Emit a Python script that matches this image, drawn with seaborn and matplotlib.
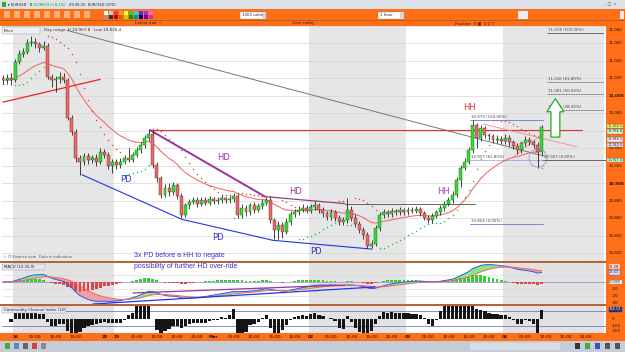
import numpy as np
import pandas as pd
import matplotlib
matplotlib.use("Agg")
import matplotlib.pyplot as plt
import seaborn as sns
from matplotlib.patches import Rectangle, Polygon, Ellipse

sns.set_theme(style="white")
plt.rcParams['font.family'] = ['DejaVu Sans']

# ---------------- data (hourly EUR/USD, price in points: 11000 = 1.1000) ----------------
opens = [11020,11018,11021,11018,11039,11048,11050,11061,11062,11059,
         11055,11057,11022,11018,11019,11022,11018,10975,10959,10929,
         10925,10931,10927,10929,10925,10936,10933,10920,10925,10921,
         10925,10929,10927,10933,10938,10944,10952,10957,10921,10906,
         10887,10895,10890,10898,10886,10864,10875,10879,10881,10877,
         10881,10878,10882,10880,10881,10883,10881,10882,10886,10864,
         10872,10867,10875,10870,10874,10878,10881,10858,10847,10853,
         10845,10856,10865,10867,10870,10872,10869,10873,10875,10870,
         10866,10862,10867,10861,10856,10858,10870,10861,10854,10847,
         10841,10829,10831,10849,10864,10867,10865,10869,10867,10870,
         10867,10870,10869,10871,10866,10861,10858,10863,10867,10872,
         10877,10881,10887,10904,10918,10925,10938,10967,10952,10963,
         10955,10954,10950,10951,10949,10952,10947,10943,10938,10946,
         10950,10947,10944,10936]
closes = [11018,11021,11018,11039,11048,11050,11061,11062,11059,11055,
          11057,11022,11018,11019,11022,11018,10975,10959,10929,10925,
          10931,10927,10929,10925,10936,10933,10920,10925,10921,10925,
          10929,10927,10933,10938,10944,10952,10957,10921,10906,10887,
          10895,10890,10898,10886,10864,10875,10879,10881,10877,10881,
          10878,10882,10880,10881,10883,10881,10882,10886,10864,10872,
          10867,10875,10870,10874,10878,10881,10858,10847,10853,10845,
          10856,10865,10867,10870,10872,10869,10873,10875,10870,10866,
          10862,10867,10861,10856,10858,10870,10861,10854,10847,10841,
          10829,10831,10849,10864,10867,10865,10869,10867,10870,10867,
          10870,10869,10871,10866,10861,10858,10863,10867,10872,10877,
          10881,10887,10904,10918,10925,10938,10967,10952,10963,10955,
          10954,10950,10951,10949,10952,10947,10943,10938,10946,10950,
          10947,10944,10936,10965]
highs = [11024,11025,11026,11042,11052,11055,11065,11068,11066,11062,
         11063,11060,11025,11023,11027,11026,11021,10978,10962,10933,
         10935,10935,10933,10934,10940,10939,10936,10928,10928,10929,
         10932,10940,10936,10942,10947,10955,10962,10960,10925,10909,
         10899,10900,10902,10901,10889,10878,10882,10885,10884,10885,
         10884,10886,10885,10884,10887,10885,10886,10889,10888,10876,
         10875,10878,10879,10878,10882,10885,10884,10861,10857,10856,
         10860,10868,10871,10874,10876,10875,10877,10880,10878,10873,
         10869,10871,10870,10864,10862,10883,10874,10865,10857,10850,
         10844,10835,10852,10867,10871,10870,10872,10871,10873,10872,
         10873,10873,10874,10873,10869,10864,10866,10870,10875,10880,
         10885,10891,10907,10921,10929,10942,10973,10969,10967,10966,
         10958,10957,10955,10954,10956,10955,10950,10946,10949,10954,
         10953,10950,10947,10967]
lows = [11014,11015,11012,11016,11036,11045,11048,11057,11055,11050,
        11052,11019,11010,11005,11015,11015,10972,10955,10925,10910,
        10921,10922,10923,10920,10922,10929,10916,10912,10917,10918,
        10922,10924,10924,10930,10935,10941,10949,10918,10902,10883,
        10884,10886,10887,10882,10860,10862,10871,10876,10873,10874,
        10875,10875,10877,10877,10878,10878,10878,10879,10860,10861,
        10863,10864,10866,10867,10871,10875,10855,10836,10836,10838,
        10842,10853,10862,10864,10867,10866,10866,10870,10866,10862,
        10858,10858,10857,10852,10852,10855,10857,10850,10843,10836,
        10826,10826,10829,10846,10861,10862,10862,10864,10864,10864,
        10864,10866,10866,10863,10858,10855,10855,10860,10864,10869,
        10874,10878,10884,10896,10915,10922,10935,10940,10949,10952,
        10950,10946,10946,10945,10945,10943,10939,10934,10935,10943,
        10944,10940,10918,10933]

# time axis labels (bar index, text)
time_idx = [3, 8, 13, 18, 25, 28, 33, 38, 43, 48, 52, 57, 62, 67, 72, 76, 81, 86, 91, 96,
            100, 105, 110, 115, 120, 124, 129, 134, 139, 144]
time_lbl = ["26", "05:00", "10:00", "15:00", "28", "29", "05:00", "10:00", "15:00", "20:00",
            "Mar", "05:00", "10:00", "15:00", "20:00", "02", "05:00", "10:00", "15:00", "20:00",
            "03", "05:00", "10:00", "15:00", "20:00", "04", "05:00", "10:00", "15:00", "20:00"]
shade_start = [3, 76, 124]
shade_end = [28, 100, 149]
price_levels = [10820, 10840, 10860, 10880, 10900, 10920, 10940, 10960, 10980, 11000,
                11020, 11040, 11060, 11080]

# drawn annotations (bar index, price)
ma_long_idx = [15.8, 133.8]
ma_long_val = [11075, 10931]
red_tl_idx = [0.0, 24.0]
red_tl_val = [10993, 11019]
hd_idx = [36.3, 64.7, 84.4]
hd_val = [10961, 10885, 10877]
pd_idx = [19.5, 44.2, 66.7, 91.1]
pd_val = [10910, 10859, 10835, 10825]
res_idx = [36.3, 143.0]
res_val = [10961, 10961]
brk_idx = [84.4, 116.5]
brk_val = [10877, 10877]
fib_r_levels = [11072, 11016, 11002, 10984]
fib_r_labels = ["11.074 (100.00%)", "11.016 (61.80%)", "11.001 (50.00%)", "10.985 (38.20%)"]
fib_r_span = [134.3, 148.2]
fib_l_levels = [10973, 10927, 10854]
fib_l_labels = ["10.973 (100.00%)", "10.927 (61.80%)", "10.854 (0.00%)"]
fib_l_span = [115.3, 133.3]
base_level = 10927
base_span = [133.3, 149.0]
pink1_idx = [118.5, 141.7]
pink1_val = [10968, 10942]
pink2_idx = [125.9, 133.3]
pink2_val = [10930, 10957]
arrow_idx = [135.3, 137.5, 137.5, 138.5, 136.4, 134.3, 135.3]
arrow_val = [10953, 10953, 10982, 10982, 10997, 10982, 10982]
circle_c = (132.1, 10929)
macd_tl1_idx = [32.1, 84.4]
macd_tl1_val = [-15.7, -4.3]
macd_tl2_idx = [22.2, 91.9]
macd_tl2_val = [-31.4, -7.1]

# ---------------- indicators ----------------
n = len(closes)
idx = np.arange(n)
o = np.array(opens, float); c = np.array(closes, float)
h = np.array(highs, float); l = np.array(lows, float)
cs = pd.Series(c)
ma = cs.ewm(span=20, adjust=False).mean()

def psar(high, low, af0=0.02, afmax=0.2):
    s = np.zeros(len(high)); bull = np.zeros(len(high), bool)
    up = True; af = af0; ep = high[0]; s[0] = low[0]; bull[0] = True
    for i in range(1, len(high)):
        prev = s[i-1]
        v = prev + af * (ep - prev)
        if up:
            v = min(v, low[i-1], low[max(i-2, 0)])
            if low[i] < v:
                up = False; v = ep; ep = low[i]; af = af0
            elif high[i] > ep:
                ep = high[i]; af = min(af + af0, afmax)
        else:
            v = max(v, high[i-1], high[max(i-2, 0)])
            if high[i] > v:
                up = True; v = ep; ep = high[i]; af = af0
            elif low[i] < ep:
                ep = low[i]; af = min(af + af0, afmax)
        s[i] = v; bull[i] = up
    return s, bull

sar, sar_bull = psar(h, l)
ema12 = cs.ewm(span=12, adjust=False).mean()
ema26 = cs.ewm(span=26, adjust=False).mean()
macd = ema12 - ema26
signal = macd.ewm(span=9, adjust=False).mean()
hist = macd - signal
tp = pd.Series((h + l + c) / 3)
sma_tp = tp.rolling(14, min_periods=3).mean()
mad = tp.rolling(14, min_periods=3).apply(lambda x: np.mean(np.abs(x - x.mean())), raw=True)
cci = ((tp - sma_tp) / (0.015 * mad)).fillna(0)

# ---------------- figure ----------------
W, H = 625, 352
fig = plt.figure(figsize=(W / 100, H / 100), dpi=100)
fig.patch.set_facecolor("white")
ORANGE = "#ff6f17"

def rect(x0, y0, x1, y1):
    return [x0 / W, 1 - y1 / H, (x1 - x0) / W, (y1 - y0) / H]

def fbox(x0, y0, x1, y1, color, z=-1, ec="none", lw=0):
    fig.patches.append(Rectangle((x0 / W, 1 - y1 / H), (x1 - x0) / W, (y1 - y0) / H,
                                 transform=fig.transFigure, facecolor=color,
                                 edgecolor=ec, lw=lw, zorder=z))

def ftxt(x, y, s, **kw):
    kw.setdefault("fontsize", 3.5)
    kw.setdefault("va", "center")
    fig.text(x / W, 1 - y / H, s, **kw)

# chrome (behind axes so axis texts stay visible)
fbox(0, 0, 625, 9, "#dde1e8")
fbox(0, 9, 625, 20, ORANGE)
fbox(0, 20, 625, 20.7, "#c85a10", z=-0.9)
fbox(0, 20.7, 625, 26, ORANGE)
fbox(606, 26, 625, 341, ORANGE, z=-0.8)
fbox(0, 333, 625, 341, ORANGE, z=-0.8)
fbox(0, 341, 625, 352, "#c6ccd6", z=-0.8)
fbox(470, 343, 560, 350, "#d9dde5", z=-0.7)
fbox(0, 261, 606, 262.6, "#b4643c", z=2)
fbox(0, 304.3, 606, 305.8, "#b4643c", z=2)

# title bar
fbox(2, 2, 6, 7, "#33aa33", z=2)
ftxt(7.5, 4.5, "\u25b8 EURUSD", color="#222222", fontsize=2.6)
ftxt(30, 4.5, "\u25ae 10,960.0 (+0.1%)", color="#119911", fontsize=2.6)
ftxt(69, 4.5, "09:35:25  EUR/USD (CFD)", color="#222222", fontsize=2.6)
ftxt(603, 4.5, "_  \u25a1  x", color="#555555", fontsize=2.8)
# toolbar
palette = ["#ffffff", "#cccccc", "#ff3333", "#ff9933", "#ffff33", "#33cc33", "#33cccc", "#3333ff", "#9933cc", "#ff66cc",
           "#999999", "#333333", "#cc0000", "#cc6600", "#cccc00", "#009900", "#009999", "#000099", "#660099", "#cc3399"]
for k, col in enumerate(palette):
    cx = 104 + (k % 10) * 5
    cy = 11 + (k // 10) * 4
    fbox(cx, cy, cx + 4.4, cy + 3.6, col, z=2)
for k in range(9):
    fbox(4 + k * 10, 11, 10 + k * 10, 18, "#f9b27d", z=2)
fbox(240, 12, 266, 18.5, "white", z=2, ec="#888888", lw=0.3)
ftxt(242, 15.2, "1000 units", fontsize=2.8, color="#222222")
fbox(262, 12.5, 266, 18, "#cfd6e2", z=2.1)
fbox(378, 12, 404, 18.5, "white", z=2, ec="#888888", lw=0.3)
ftxt(380, 15.2, "1 hour", fontsize=2.8, color="#222222")
fbox(400, 12.5, 404, 18, "#cfd6e2", z=2.1)
fbox(518, 11, 528, 18.5, "#e8eef4", z=2)
fbox(620, 11, 624, 18.5, "#e8eef4", z=2)
ftxt(148, 23.4, "Latest pair  \u203a", ha="center", fontsize=3.0, color="#3a1800")
ftxt(305, 23.4, "Gain today  \u203a", ha="center", fontsize=3.0, color="#3a1800")
ftxt(475, 23.4, "Position  0 \u25a3  1 0 \u2191", ha="center", fontsize=3.0, color="#3a1800")

XL = (-0.25, 148.9)

# ---------------- main price panel ----------------
ax = fig.add_axes(rect(2, 26, 606, 261))
ax.set_xlim(*XL)
ax.set_ylim(10811.4, 11080)
ax.set_facecolor("white")
for a, b in zip(shade_start, shade_end):
    ax.axvspan(a - 0.5, b - 0.5, color="#e6e6e6", lw=0, zorder=0)
for lv in price_levels:
    ax.axhline(lv, color="#d6d6d6", lw=0.5, zorder=0.5)

sns.lineplot(x=ma_long_idx, y=ma_long_val, ax=ax, color="#777777", lw=0.7, zorder=2)
sns.lineplot(x=idx, y=ma.values, ax=ax, color="#f07070", lw=0.8, zorder=2)
ax.plot(red_tl_idx, red_tl_val, color="#ee2222", lw=0.9, zorder=2)
ax.plot(res_idx, res_val, color="#dd3333", lw=0.8, zorder=2)
ax.plot(brk_idx, brk_val, color="#666666", lw=0.7, zorder=2)
ax.plot(hd_idx[:2], hd_val[:2], color="#993399", lw=1.4, zorder=2)
ax.plot(hd_idx[1:], hd_val[1:], color="#884488", lw=0.9, zorder=2)
ax.plot(pd_idx, pd_val, color="#2233ee", lw=0.8, zorder=2)
ax.plot(pink1_idx, pink1_val, color="#f08888", lw=0.6, zorder=2)
ax.plot(pink2_idx, pink2_val, color="#f08888", lw=0.6, zorder=2)

# parabolic SAR dots
sar_df = pd.DataFrame({"i": idx, "sar": sar, "bull": sar_bull})
sns.scatterplot(data=sar_df[sar_df.bull], x="i", y="sar", ax=ax, color="#33bb33", s=1.2,
                linewidth=0, zorder=3)
sns.scatterplot(data=sar_df[~sar_df.bull], x="i", y="sar", ax=ax, color="#e04848", s=1.2,
                linewidth=0, zorder=3)

# candles
up = c >= o
ax.vlines(idx, l, h, color="#111111", lw=0.55, zorder=4)
body_lo = np.minimum(o, c)
body_h = np.maximum(np.abs(c - o), 0.8)
ax.bar(idx[up], body_h[up], bottom=body_lo[up], width=0.72, color="#33dd33",
       edgecolor="#225522", lw=0.3, zorder=5)
ax.bar(idx[~up], body_h[~up], bottom=body_lo[~up], width=0.72, color="#ee6666",
       edgecolor="#553333", lw=0.3, zorder=5)

# fibonacci projections
for lv, lb in zip(fib_r_levels, fib_r_labels):
    ls = "-" if lb.endswith("(100.00%)") else (0, (1.2, 0.8))
    ax.plot(fib_r_span, [lv, lv], color="#555555", lw=0.6, ls=ls, zorder=2)
    ax.text(fib_r_span[0] + 0.3, lv + 1.2, lb, fontsize=2.9, color="#444444", va="bottom", zorder=6)
for lv, lb in zip(fib_l_levels, fib_l_labels):
    ls = (0, (1.2, 0.8)) if "61.80" in lb else "-"
    ax.plot(fib_l_span, [lv, lv], color="#6677dd", lw=0.6, ls=ls, zorder=2)
    ax.text(fib_l_span[0] + 0.3, lv + 1.2, lb, fontsize=2.9, color="#444444", va="bottom", zorder=6)
ax.plot(base_span, [base_level, base_level], color="#666666", lw=0.7, zorder=2)
ax.text(base_span[0] + 0.3, base_level + 1.2, "10.927 (0.00%)", fontsize=2.9, color="#444444",
        va="bottom", zorder=6)

ax.add_patch(Polygon(np.column_stack([arrow_idx, arrow_val]), closed=True, facecolor="white",
                     edgecolor="#22aa22", lw=0.9, zorder=6))
ax.add_patch(Ellipse(circle_c, 4.4, 20.6, facecolor="none", edgecolor="#7777cc", lw=0.6,
                     ls=(0, (2, 1)), zorder=6))

ax.set_xticks([]); ax.set_yticks([])
ax.set_xlabel(""); ax.set_ylabel("")
for sp in ax.spines.values():
    sp.set_visible(False)
for lv in price_levels[:-1]:
    bold = lv in (11000, 10900)
    ax.text(1.005, lv, f"{lv // 1000},{lv % 1000:03d}", transform=ax.get_yaxis_transform(),
            fontsize=2.9, va="center", ha="left", color="#2a1000",
            fontweight="bold" if bold else "normal", clip_on=False, zorder=10)
ax.text(1.005, 11078, "11,080", transform=ax.get_yaxis_transform(), fontsize=2.9,
        va="top", ha="left", color="#2a1000", clip_on=False, zorder=10)

# ---------------- MACD panel ----------------
axm = fig.add_axes(rect(2, 263, 606, 304))
axm.set_xlim(*XL)
axm.set_ylim(-31.4, 27.1)
axm.set_facecolor("white")
for a, b in zip(shade_start, shade_end):
    axm.axvspan(a - 0.5, b - 0.5, color="#e2e2e2", lw=0, zorder=0)
for lv in [10, -10, -20]:
    axm.axhline(lv, color="#d4d4d4", lw=0.4, zorder=0.5)
axm.axhline(0, color="#8888cc", lw=0.5, zorder=0.6)
mv, sv = macd.values, signal.values
axm.fill_between(idx, mv, sv, where=mv >= sv, color="#88e888", lw=0, interpolate=True, zorder=1)
axm.fill_between(idx, mv, sv, where=mv < sv, color="#f0a0a0", lw=0, interpolate=True, zorder=1)
hv = hist.values
axm.bar(idx, hv, width=0.7, color=np.where(hv >= 0, "#33cc33", "#dd4444"), lw=0, zorder=2)
sns.lineplot(x=idx, y=mv, ax=axm, color="#3355ee", lw=0.7, zorder=3)
sns.lineplot(x=idx, y=sv, ax=axm, color="#ee6666", lw=0.7, zorder=3)
axm.plot(macd_tl1_idx, macd_tl1_val, color="#993399", lw=0.9, zorder=4)
axm.plot(macd_tl2_idx, macd_tl2_val, color="#2233ee", lw=0.9, zorder=4)
axm.set_xticks([]); axm.set_yticks([])
axm.set_xlabel(""); axm.set_ylabel("")
for sp in axm.spines.values():
    sp.set_visible(False)
for lv in [-10, -20, -30]:
    axm.text(1.01, lv, f"{lv}", transform=axm.get_yaxis_transform(), fontsize=2.9,
             va="center", ha="left", color="#2a1000", clip_on=False, zorder=10)
axm.text(1.005, 0, "0.0000", transform=axm.get_yaxis_transform(), fontsize=2.5, va="center",
         ha="left", color="#222222", clip_on=False, zorder=10,
         bbox=dict(boxstyle="square,pad=0.12", fc="white", ec="#888888", lw=0.3))
axm.text(1.005, mv[-1], f"{mv[-1]:.2f}", transform=axm.get_yaxis_transform(), fontsize=2.5,
         va="center", ha="left", color="#222222", clip_on=False, zorder=10,
         bbox=dict(boxstyle="square,pad=0.12", fc="#dde4ff", ec="#3355ee", lw=0.3))
axm.text(1.005, sv[-1] + 6, f"{sv[-1]:.2f}", transform=axm.get_yaxis_transform(), fontsize=2.5,
         va="center", ha="left", color="#222222", clip_on=False, zorder=10,
         bbox=dict(boxstyle="square,pad=0.12", fc="#ffe0e0", ec="#ee6666", lw=0.3))

# ---------------- CCI panel ----------------
axc = fig.add_axes(rect(2, 306, 606, 333))
axc.set_xlim(*XL)
axc.set_ylim(-193.3, 166.7)
axc.set_facecolor("white")
for a, b in zip(shade_start, shade_end):
    axc.axvspan(a - 0.5, b - 0.5, color="#e2e2e2", lw=0, zorder=0)
axc.axhline(100, color="#7777cc", lw=0.6, zorder=1)
axc.axhline(-100, color="#7777cc", lw=0.6, zorder=1)
axc.bar(idx, cci.values, width=0.8, color="#151515", lw=0, zorder=2)
axc.set_xticks([]); axc.set_yticks([])
axc.set_xlabel(""); axc.set_ylabel("")
for sp in axc.spines.values():
    sp.set_visible(False)
for lv in [0, -100]:
    axc.text(1.01, lv, f"{lv}", transform=axc.get_yaxis_transform(), fontsize=2.9,
             va="center", ha="left", color="#2a1000", clip_on=False, zorder=10)
axc.text(1.01, -165, "-200", transform=axc.get_yaxis_transform(), fontsize=2.9,
         va="center", ha="left", color="#2a1000", clip_on=False, zorder=10)
axc.text(1.005, 125, f"{cci.values[-1]:.2f}", transform=axc.get_yaxis_transform(), fontsize=2.5,
         va="center", ha="left", color="white", clip_on=False, zorder=10,
         bbox=dict(boxstyle="square,pad=0.12", fc="#223377", ec="#223377", lw=0.3))
for ti, tl in zip(time_idx, time_lbl):
    bold = not tl.endswith(":00")
    axc.text(ti, -0.15, tl, transform=axc.get_xaxis_transform(), fontsize=3.2, ha="center",
             va="center", color="#2a1000", fontweight="bold" if bold else "normal",
             clip_on=False, zorder=10)

# ---------------- overlay labels ----------------
fbox(2, 27, 40, 34, "#eef0f4", z=2, ec="#999999", lw=0.3)
ftxt(4, 30.5, "Price", fontsize=3.0, color="#222222", zorder=3)
ftxt(44, 30.5, "Day range  H 10,967.8   Low 10,826.4", fontsize=3.0, color="#333333")
ftxt(3, 257.5, "\u00a9 IT-Finance.com  Data is indicative", fontsize=2.7, color="#555555")
fbox(2, 263.5, 45, 269.5, "#e4e8f0", z=2.5, ec="#8899bb", lw=0.3)
ftxt(4, 266.5, "MACD (12,26,9)", fontsize=2.8, color="#222222", zorder=3)
fbox(2, 306.5, 66, 312.5, "#e4e8f0", z=2.5, ec="#8899bb", lw=0.3)
ftxt(4, 309.5, "Commodity Channel Index (14)", fontsize=2.8, color="#222222", zorder=3)

ftxt(224, 157, "HD", color="#993399", fontsize=6, ha="center", zorder=8)
ftxt(296, 192, "HD", color="#993399", fontsize=6, ha="center", zorder=8)
ftxt(126, 179, "PD", color="#3333cc", fontsize=6, ha="center", zorder=8)
ftxt(218, 238, "PD", color="#3333cc", fontsize=6, ha="center", zorder=8)
ftxt(316, 252, "PD", color="#3333cc", fontsize=6, ha="center", zorder=8)
ftxt(470, 107, "HH", color="#dd3333", fontsize=6, ha="center", zorder=8)
ftxt(443, 192, "HH", color="#aa44aa", fontsize=6, ha="center", zorder=8)
ftxt(134, 255.5, "3x PD before a HH to negate", color="#3333cc", fontsize=5,
     family=["Liberation Sans", "DejaVu Sans"], zorder=8)
ftxt(134, 266.5, "possibility of further HD over-ride", color="#3333cc", fontsize=5,
     family=["Liberation Sans", "DejaVu Sans"], zorder=8)

# right price tags
tags = [(126, "10,960.0", "#ffff66"), (131.5, "10,956.8", "#ccffcc"), (139.5, "10,945.1", "#ffe4e4"),
        (145, "10,940.0", "#e4e8ff"), (160, "10,927.0", "#ccffcc")]
for ty, tt, tc in tags:
    ftxt(607.5, ty, tt, fontsize=2.4, color="#222222", zorder=9,
         bbox=dict(boxstyle="square,pad=0.1", fc=tc, ec="#777777", lw=0.3))

# bottom toolbar icons
for k, col in enumerate(["#44aa44", "#5588cc", "#666666", "#cc4444", "#888888"]):
    fbox(5 + k * 9, 343, 10 + k * 9, 349, col, z=2)
for k, col in enumerate(["#333333", "#44aa44", "#3355cc", "#555555", "#555555"]):
    fbox(575 + k * 10, 343, 580 + k * 10, 349, col, z=2)

fig.savefig("out.png", dpi=100)
